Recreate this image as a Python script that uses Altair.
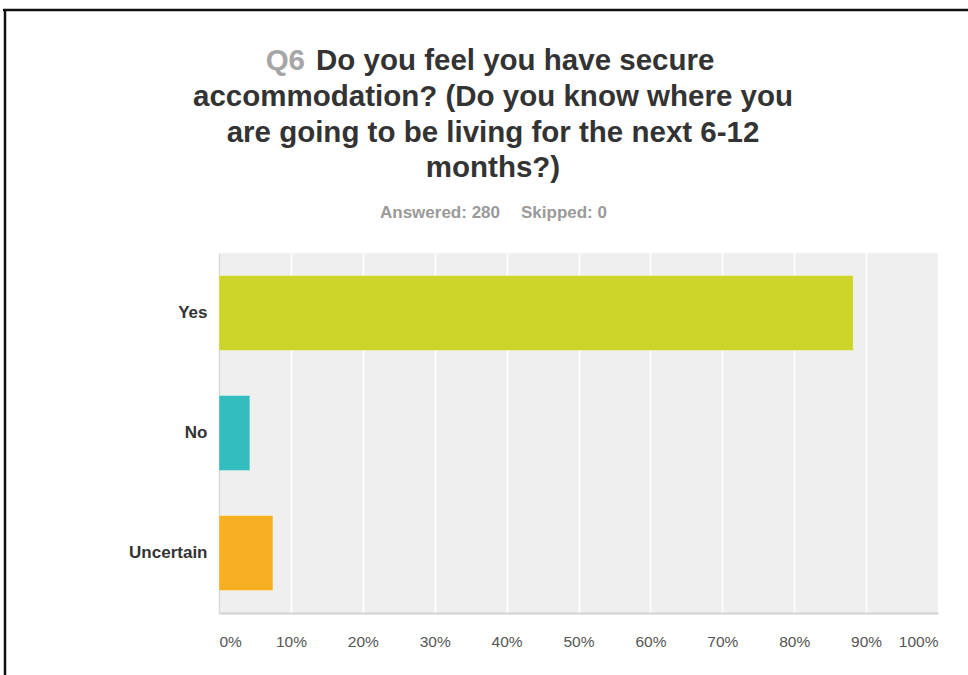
import altair as alt
import pandas as pd

# ---- data ----
categories = ["Yes", "No", "Uncertain"]
shares = [0.8821, 0.0429, 0.0750]
bar_colors = ["#CDD42A", "#33BDBF", "#F7AF22"]
tick_values = [0, 0.1, 0.2, 0.3, 0.4, 0.5, 0.6, 0.7, 0.8, 0.9, 1.0]

title_q = "Q6"
title_first = "Do you feel you have secure"
title_rest = [
    "accommodation? (Do you know where you",
    "are going to be living for the next 6-12",
    "months?)",
]
answered_text = "Answered: 280"
skipped_text = "Skipped: 0"

df = pd.DataFrame({"answer": categories, "share": shares})

FONT = "Liberation Sans"

bars = alt.Chart(df).mark_bar(strokeWidth=1, strokeOpacity=0.35, stroke="white").encode(
    x=alt.X(
        "share:Q",
        scale=alt.Scale(domain=[0, 1], nice=False, zero=True),
        axis=alt.Axis(
            values=tick_values,
            format=".0%",
            title=None,
            ticks=False,
            grid=True,
            gridColor="white",
            gridWidth=1.5,
            domainColor="#d2d2d2",
            domainWidth=2,
            labelFlush=True,
            labelPadding=21,
            labelFont=FONT,
            labelFontSize=15.5,
            labelColor="#555555",
        ),
    ),
    y=alt.Y(
        "answer:N",
        sort=categories,
        scale=alt.Scale(paddingInner=0.375, paddingOuter=0.1875),
        axis=alt.Axis(
            title=None,
            ticks=False,
            grid=False,
            domainColor="#d8d8d8",
            domainWidth=1.5,
            labelPadding=12,
            labelFont=FONT,
            labelFontSize=17,
            labelFontWeight="bold",
            labelColor="#333333",
        ),
    ),
    color=alt.Color(
        "answer:N",
        scale=alt.Scale(domain=categories, range=bar_colors),
        legend=None,
    ),
)

one = pd.DataFrame({"k": [0]})

q_label = alt.Chart(one).mark_text(
    text=title_q, font=FONT, fontSize=29.5, fontWeight="bold",
    color="#a6a6a6", align="right", baseline="alphabetic",
).encode(x=alt.value(86), y=alt.value(-183))

first_line = alt.Chart(one).mark_text(
    text=title_first, font=FONT, fontSize=29.5, fontWeight="bold",
    color="#333333", align="left", baseline="alphabetic",
).encode(x=alt.value(97), y=alt.value(-183))

rest_lines = alt.Chart(one).mark_text(
    text=title_rest, font=FONT, fontSize=29.5, fontWeight="bold",
    color="#333333", align="center", baseline="alphabetic", lineHeight=35.5,
).encode(x=alt.value(274), y=alt.value(-147))

answered = alt.Chart(one).mark_text(
    text=answered_text, font=FONT, fontSize=17, fontWeight="bold",
    color="#9a9a9a", align="right", baseline="alphabetic",
).encode(x=alt.value(281), y=alt.value(-35))

skipped = alt.Chart(one).mark_text(
    text=skipped_text, font=FONT, fontSize=17, fontWeight="bold",
    color="#9a9a9a", align="left", baseline="alphabetic",
).encode(x=alt.value(302), y=alt.value(-35))

# frame lines of the screenshot
top_rule = alt.Chart(one).mark_rule(color="#111111", strokeWidth=2.5).encode(
    x=alt.value(-216), x2=alt.value(760), y=alt.value(-243)
)
left_rule = alt.Chart(one).mark_rule(color="#111111", strokeWidth=2.5).encode(
    x=alt.value(-214), y=alt.value(-244), y2=alt.value(430)
)

chart = alt.layer(
    bars, q_label, first_line, rest_lines, answered, skipped, top_rule, left_rule
).properties(
    width=719,
    height=360,
    padding={"left": 219, "top": 253, "right": 30, "bottom": 62},
    autosize=alt.AutoSizeParams(type="none"),
    background="white",
).configure_view(
    fill="#efefef", stroke=None
)

chart.save("out.html", embed_options={"renderer": "svg", "actions": False})
